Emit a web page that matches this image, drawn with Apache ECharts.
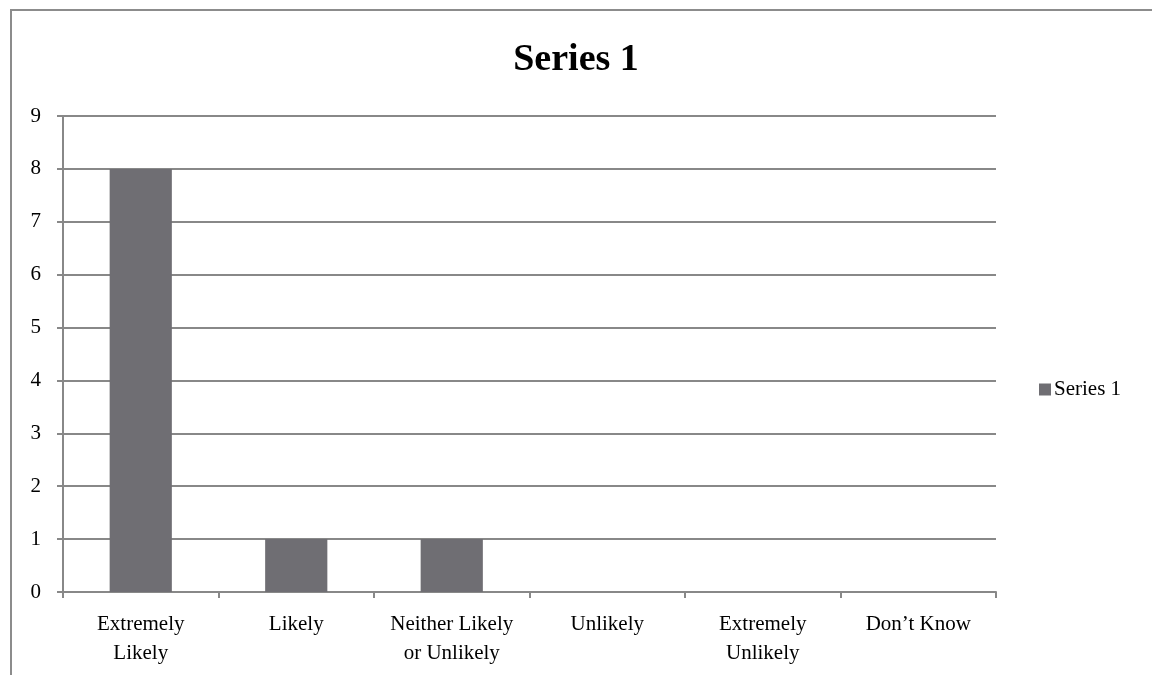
<!DOCTYPE html>
<html>
<head>
<meta charset="utf-8">
<script src="https://cdn.jsdelivr.net/npm/echarts@6/dist/echarts.min.js"></script>
<style>
  html, body { margin: 0; padding: 0; background: #fff; }
  #frame { position: absolute; left: 10px; top: 9px; width: 1200px; height: 700px;
    border-left: 2px solid #8c8c8c; border-top: 2px solid #8c8c8c; }
  #chart { position: absolute; left: 0; top: 0; width: 1152px; height: 675px; }
</style>
</head>
<body>
<div id="frame"></div>
<div id="chart"></div>
<script>
  const categories = ['Extremely\nLikely', 'Likely', 'Neither Likely\nor Unlikely', 'Unlikely', 'Extremely\nUnlikely', 'Don\u2019t Know']
  const values = [8, 1, 1, 0, 0, 0]
  const seriesName = 'Series 1'

  const font = '"Liberation Serif", "DejaVu Serif", serif'
  const myChart = echarts.init(document.getElementById('chart'))
  myChart.setOption({
    animation: false,
    title: {
      text: seriesName,
      left: 'center',
      top: 36,
      textStyle: { fontFamily: font, fontSize: 38, fontWeight: 'bold', color: '#000' }
    },
    legend: {
      data: [seriesName],
      left: 1034,
      top: 374,
      icon: 'rect',
      itemWidth: 12,
      itemHeight: 12,
      itemGap: 6,
      textStyle: { fontFamily: font, fontSize: 21, color: '#000', padding: [2, 0, 0, -2] }
    },
    grid: { left: 63, right: 156, top: 116, bottom: 83 },
    xAxis: {
      type: 'category',
      data: categories,
      axisLine: { lineStyle: { color: '#888', width: 2 } },
      axisTick: { show: true, length: 6, lineStyle: { color: '#888', width: 2 } },
      axisLabel: { fontFamily: font, fontSize: 21, color: '#000', margin: 18, lineHeight: 29, interval: 0 }
    },
    yAxis: {
      type: 'value',
      min: 0,
      max: 9,
      interval: 1,
      axisLine: { show: true, lineStyle: { color: '#888', width: 2 } },
      axisTick: { show: true, length: 6, lineStyle: { color: '#888', width: 2 } },
      axisLabel: { fontFamily: font, fontSize: 21, color: '#000', margin: 22 },
      splitLine: { lineStyle: { color: '#888', width: 2 } }
    },
    series: [{
      name: seriesName,
      type: 'bar',
      data: values,
      barWidth: '40%',
      itemStyle: { color: '#6f6e73' }
    }]
  })
</script>
</body>
</html>
